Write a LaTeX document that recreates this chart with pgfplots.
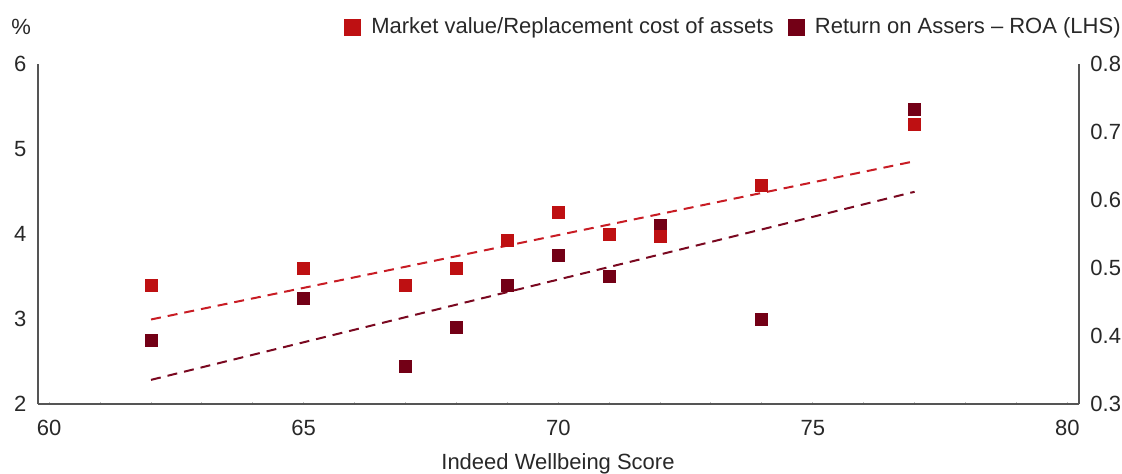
\documentclass[border=0pt]{standalone}
\usepackage{fontspec}
\setmainfont{Liberation Sans}
\usepackage{pgfplots}
\pgfplotsset{compat=1.18}

\definecolor{mvred}{RGB}{190,16,18}
\definecolor{roared}{RGB}{115,0,22}
\definecolor{mvline}{RGB}{200,28,36}
\definecolor{roaline}{RGB}{122,8,32}
\definecolor{txt}{RGB}{40,40,40}
\definecolor{axgray}{RGB}{85,85,85}

\begin{document}
\begin{tikzpicture}
\pgfplotsset{
  every axis/.append style={
    scale only axis, width=520.5pt, height=170pt,
    at={(0,0)}, anchor=south west,
    xmin=59.78, xmax=80.23,
    font=\fontsize{11}{13}\selectfont,
    /pgf/number format/assume math mode=true,
    axis line style={axgray, line width=0.75pt},
    tick label style={txt},
    clip=false,
  },
  sqlegend/.style={legend image code/.code={
    \fill (0pt,-4pt) rectangle (8pt,4pt);
    \path (11.3pt,0pt);}},
}

% left axis: ROA (%)
\begin{axis}[
  ymin=2, ymax=6,
  axis x line*=bottom, axis y line*=left,
  xtick={60,65,70,75,80}, minor x tick num=4,
  ytick={2,3,4,5,6},
  tick align=inside,
  major tick length=1.2pt, minor tick length=1.2pt,
  x tick style={gray!50, line width=0.5pt},
  minor x tick style={gray!50, line width=0.5pt},
  y tick style={draw=none},
  xticklabel style={yshift=-4.5pt},
  yticklabel style={xshift=-2.3pt},
  legend style={at={(rel axis cs:1.0442,1.109)}, anchor=east,
    legend columns=2, draw=none, fill=none, font=\fontsize{11}{13}\selectfont,
    text=txt, inner sep=0pt,
    /tikz/every even column/.append style={column sep=5pt}},
  legend cell align=left,
]
\addlegendimage{only marks, mark=square*, color=mvred, sqlegend}
\addlegendentry{Market value/Replacement cost of assets}

\addplot[only marks, mark=square*, color=roared, mark size=3pt,
  mark options={line width=0pt}, sqlegend]
coordinates {
(62,2.75) (65,3.24) (67,2.44) (68,2.90) (69,3.40)
(70,3.75) (71,3.50) (72,4.10) (74,3.00) (77,5.47)
};
\addlegendentry{Return on Assers -- ROA (LHS)}

% ROA trend
\addplot[roaline, line width=1pt, dash pattern=on 5pt off 3.5pt, forget plot]
coordinates {(62,2.284) (77,4.497)};

\node[txt, anchor=center] at (rel axis cs:-0.0163,1.109) {\%};
\node[txt, anchor=base] at (rel axis cs:0.4995,-0.194) {Indeed Wellbeing Score};
\end{axis}

% right axis: market value / replacement cost
\begin{axis}[
  ymin=0.3, ymax=0.8,
  axis x line=none, axis y line*=right,
  ytick={0.3,0.4,0.5,0.6,0.7,0.8},
  y tick style={draw=none},
  yticklabel style={xshift=2.2pt, /pgf/number format/fixed,
    /pgf/number format/precision=1, /pgf/number format/fixed zerofill},
]
\addplot[only marks, mark=square*, color=mvred, mark size=3pt,
  mark options={line width=0pt}]
coordinates {
(62,0.475) (65,0.500) (67,0.475) (68,0.500) (69,0.540)
(70,0.581) (71,0.550) (72,0.546) (74,0.621) (77,0.711)
};

% market value trend
\addplot[mvline, line width=1pt, dash pattern=on 5pt off 3.5pt]
coordinates {(62,0.4243) (77,0.657)};
\end{axis}

\pgfresetboundingbox
\path[use as bounding box] (-19pt,-34.5pt) rectangle (542pt,202pt);
\end{tikzpicture}
\end{document}
